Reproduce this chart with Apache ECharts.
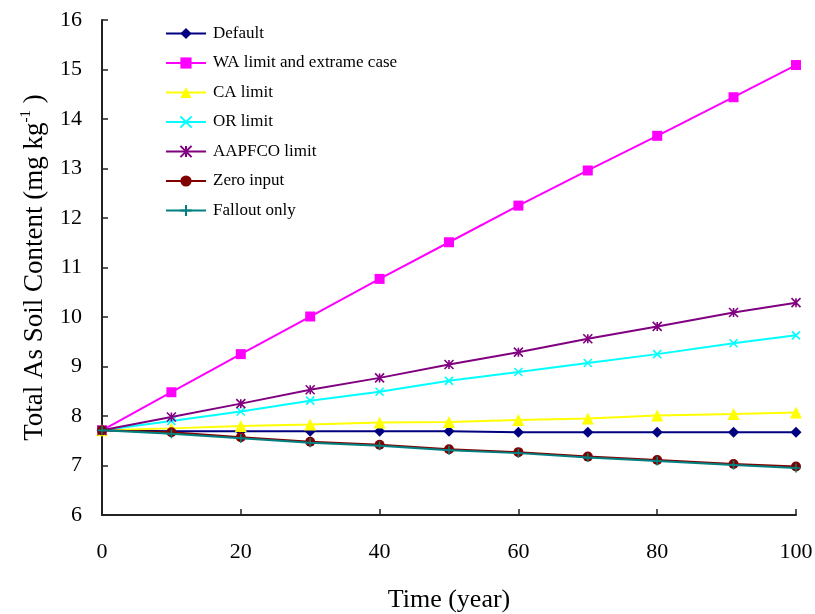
<!DOCTYPE html>
<html>
<head>
<meta charset="utf-8">
<script src="https://cdn.jsdelivr.net/npm/echarts@6/dist/echarts.min.js"></script>
<style>
html,body{margin:0;padding:0;background:#fff;}
#chart{width:815px;height:614px;}
</style>
</head>
<body>
<div id="chart"></div>
<script>
var years = [0, 10, 20, 30, 40, 50, 60, 70, 80, 91, 100];
var seriesNames = ['Default', 'WA limit and extrame case', 'CA limit', 'OR limit', 'AAPFCO limit', 'Zero input', 'Fallout only'];
var defaultVals = [7.71, 7.69, 7.69, 7.69, 7.69, 7.69, 7.67, 7.67, 7.67, 7.67, 7.67];
var waVals      = [7.71, 8.48, 9.25, 10.01, 10.77, 11.51, 12.25, 12.96, 13.66, 14.44, 15.09];
var caVals      = [7.71, 7.75, 7.80, 7.83, 7.87, 7.88, 7.92, 7.95, 8.01, 8.04, 8.07];
var orVals      = [7.71, 7.90, 8.09, 8.31, 8.49, 8.71, 8.89, 9.07, 9.25, 9.47, 9.63];
var aapfcoVals  = [7.71, 7.98, 8.25, 8.53, 8.77, 9.04, 9.29, 9.56, 9.81, 10.09, 10.29];
var zeroVals    = [7.71, 7.67, 7.57, 7.48, 7.42, 7.33, 7.27, 7.18, 7.11, 7.03, 6.98];
var falloutVals = [7.71, 7.64, 7.55, 7.46, 7.40, 7.31, 7.25, 7.16, 7.09, 7.01, 6.95];
var yTicks = [6, 16, 1];
var xTicks = [0, 100, 20];

var allVals = [defaultVals, waVals, caVals, orVals, aapfcoVals, zeroVals, falloutVals];
var colors = ['#000080', '#FF00FF', '#FFFF00', '#00FFFF', '#800080', '#800000', '#008080'];
var symbols = [
  'diamond', 'rect', 'triangle',
  'path://M0,0L10,10M0,10L10,0',
  'path://M5,0L5,10M0,0L10,10M0,10L10,0',
  'circle',
  'path://M5,0L5,10M0,5L10,5'
];
var sizes = [11, 10, 12, 8, 9, 10, 9];
var borders = [0, 0, 0, 1.6, 1.6, 0, 1.6];

function pairs(vals) {
  return years.map(function (y, i) { return [y, vals[i]]; });
}

var serif = 'Liberation Serif';
var series = seriesNames.map(function (n, i) {
  return {
    name: n,
    type: 'line',
    data: pairs(allVals[i]),
    symbol: symbols[i],
    symbolSize: sizes[i],
    showSymbol: true,
    color: colors[i],
    lineStyle: { color: colors[i], width: 2 },
    itemStyle: { color: colors[i], borderColor: colors[i], borderWidth: borders[i] },
    emphasis: { disabled: true },
    animation: false,
    z: 2 + i
  };
});

var chart = echarts.init(document.getElementById('chart'));
chart.setOption({
  backgroundColor: '#fff',
  animation: false,
  grid: { left: 102, right: 19, top: 20, bottom: 99, containLabel: false, outerBoundsMode: 'none' },
  legend: {
    orient: 'vertical',
    left: 165,
    top: 25,
    padding: 0,
    itemWidth: 40,
    itemHeight: 14,
    itemGap: 12.5,
    data: seriesNames,
    textStyle: { fontFamily: serif, fontSize: 17, color: '#000', padding: [0, 0, 0, 2] }
  },
  xAxis: {
    type: 'value',
    min: xTicks[0], max: xTicks[1], interval: xTicks[2],
    name: 'Time (year)',
    nameLocation: 'middle',
    nameGap: 72,
    nameTextStyle: { fontFamily: serif, fontSize: 26, color: '#000' },
    axisLine: { show: true, lineStyle: { color: '#222', width: 2 } },
    axisTick: { show: true, inside: true, length: 6, lineStyle: { color: '#222', width: 1.5 } },
    axisLabel: { margin: 26, fontFamily: serif, fontSize: 22, color: '#000' },
    splitLine: { show: false }
  },
  yAxis: {
    type: 'value',
    min: yTicks[0], max: yTicks[1], interval: yTicks[2],
    name: '{a|Total As Soil Content (mg kg}{s|-1}{a| )}',
    nameLocation: 'middle',
    nameGap: 52,
    nameTextStyle: {
      fontFamily: serif, fontSize: 27, color: '#000',
      rich: {
        a: { fontFamily: serif, fontSize: 27, color: '#000', lineHeight: 31 },
        s: { fontFamily: serif, fontSize: 15, color: '#000', lineHeight: 15, verticalAlign: 'top' }
      }
    },
    axisLine: { show: true, lineStyle: { color: '#222', width: 2 } },
    axisTick: { show: true, inside: true, length: 6, lineStyle: { color: '#222', width: 1.5 } },
    axisLabel: { margin: 20, fontFamily: serif, fontSize: 22, color: '#000' },
    splitLine: { show: false }
  },
  series: series
});
</script>
</body>
</html>
